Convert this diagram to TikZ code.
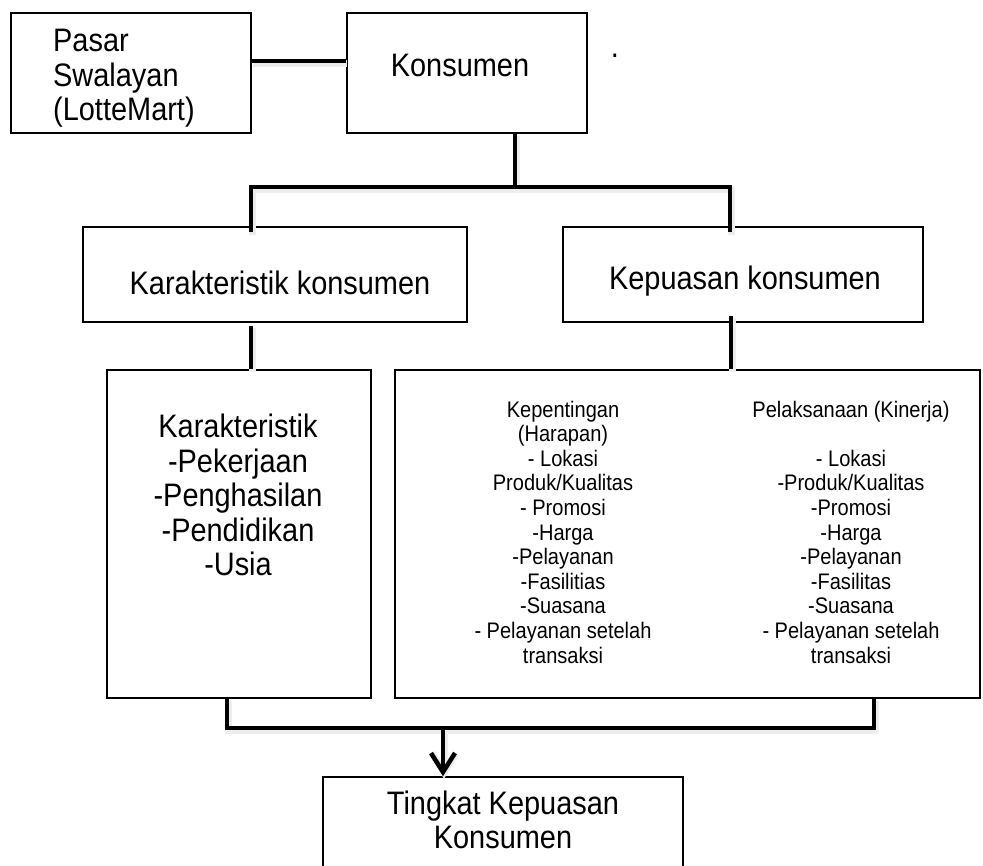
\documentclass[tikz,border=0pt]{standalone}
\usepackage{fontspec}
\setmainfont{Liberation Sans}[FakeStretch=0.89]
\usetikzlibrary{arrows.meta}

\tikzset{
  box/.style={draw, line width=1.5pt, inner sep=0pt},
  link/.style={line width=4.5pt, preaction={draw=black!7, line width=7pt, transform canvas={shift={(1pt,-2.5pt)}}}},
  big/.style={font=\fontsize{32.5}{34.5}\selectfont, align=center, inner sep=0pt},
  small/.style={font=\fontsize{22.5}{24.6}\selectfont, align=center, inner sep=0pt}
}

\begin{document}
\begin{tikzpicture}[x=1pt,y=-1pt]
  \useasboundingbox (0,0) rectangle (983,866);

  % kotak
  \node[box, minimum width=240pt, minimum height=120pt] (pasar) at (131,73) {};
  \node[box, minimum width=240pt, minimum height=120pt] (kons) at (467,73) {};
  \node[box, minimum width=384pt, minimum height=95pt] (karkon) at (275,274.5) {};
  \node[box, minimum width=360pt, minimum height=95pt] (kepkon) at (743,274.5) {};
  \node[box, minimum width=264pt, minimum height=328pt] (kar) at (239,534) {};
  \node[box, minimum width=585pt, minimum height=328pt] (kep) at (687.5,534) {};
  \node[box, minimum width=360pt, minimum height=120pt] (ting) at (503,837) {};

  % teks
  \node[big, align=left, anchor=west] (pasartxt) at (53,78.5) {Pasar\\Swalayan\\(LotteMart)};
  \node[big, anchor=base] (konstxt) at (460,76.5) {Konsumen};
  \node[big, anchor=base] (titik) at (615,58) {.};
  \node[big, anchor=base] (karkontxt) at (280,294.5) {Karakteristik konsumen};
  \node[big, anchor=base] (kepkontxt) at (745,290) {Kepuasan konsumen};
  \node[big] (kartxt) at (238,495) {Karakteristik\\-Pekerjaan\\-Penghasilan\\-Pendidikan\\-Usia};
  \node[small] (harapan) at (563,532) {Kepentingan\\(Harapan)\\- Lokasi\\Produk/Kualitas\\- Promosi\\-Harga\\-Pelayanan\\-Fasilitias\\-Suasana\\- Pelayanan setelah\\transaksi};
  \node[small] (kinerja) at (851,532) {Pelaksanaan (Kinerja)\\[24.6pt]- Lokasi\\-Produk/Kualitas\\-Promosi\\-Harga\\-Pelayanan\\-Fasilitas\\-Suasana\\- Pelayanan setelah\\transaksi};
  \node[big] (tingtxt) at (503,820) {Tingkat Kepuasan\\Konsumen};

  % garis
  \coordinate (split) at (515,187);
  \coordinate (merge) at (443,728);
  \draw[link] ([yshift=12pt]pasar.east) -- ([yshift=12pt]kons.west);
  \draw[link] ([xshift=48pt]kons.south) -- (split);
  \draw[link] ([xshift=-24pt,yshift=-6pt]karkon.north) |- (split) -| ([xshift=-13pt,yshift=-6pt]kepkon.north);
  \draw[link] ([xshift=-24pt,yshift=-3pt]karkon.south) -- ([xshift=-24pt]karkon.south |- kar.north);
  \draw[link] ([xshift=-12pt,yshift=7pt]kepkon.south) -- ([xshift=-12pt]kepkon.south |- kep.north);
  \draw[link] ([xshift=-12pt]kar.south) |- (merge) -| ([xshift=186.5pt]kep.south);
  \draw[link, -{Straight Barb[length=19pt,width=24pt]}] (merge) -- (merge |- ting.north);
\end{tikzpicture}
\end{document}
